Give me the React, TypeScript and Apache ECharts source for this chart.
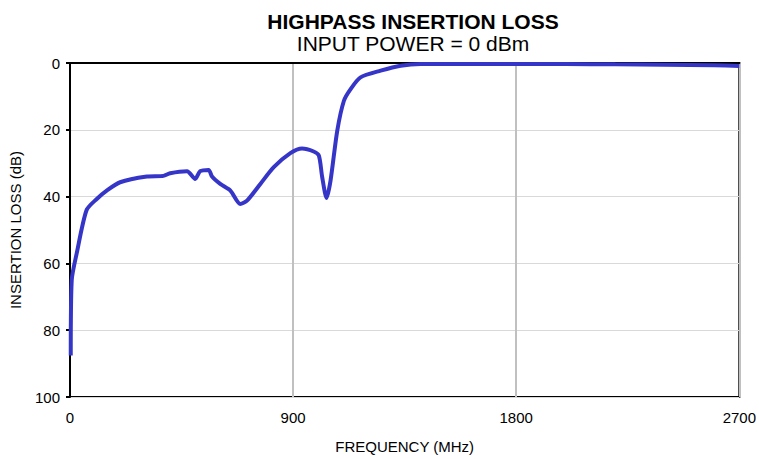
import React, { useEffect, useRef } from "react";
import * as echarts from "echarts";

const freqMHz = [3, 7, 27, 67, 108, 148, 202, 310, 377, 404, 472, 505, 525, 559, 573, 606, 647, 687, 714, 768, 822, 889, 936, 983, 1004, 1017, 1035, 1051, 1078, 1105, 1132, 1172, 1253, 1334, 1415, 1600, 1800, 2000, 2200, 2400, 2600, 2700];
const lossDb = [87.6, 65, 57, 44, 40.7, 38.2, 35.7, 34, 33.8, 33, 32.4, 34.7, 32.4, 32, 34, 36.2, 38.2, 42.2, 41.2, 36.2, 31.2, 27, 25.6, 26.5, 27.7, 34, 40.4, 35.2, 20.3, 11.3, 7.8, 4.3, 2.3, 0.8, 0.3, 0.3, 0.3, 0.3, 0.4, 0.5, 0.7, 0.9];

const titleText = "HIGHPASS INSERTION LOSS";
const subtitleText = "INPUT POWER = 0 dBm";
const xName = "FREQUENCY (MHz)";
const yName = "INSERTION LOSS (dB)";

const FONT = "'Liberation Sans', Arial, sans-serif";

export default function App() {
  const ref = useRef<HTMLDivElement>(null);
  useEffect(() => {
    if (!ref.current) return;
    const chart = echarts.init(ref.current, undefined, { renderer: "svg" });
    chart.setOption({
      animation: false,
      backgroundColor: "#ffffff",
      title: {
        text: titleText,
        subtext: subtitleText,
        left: 408,
        textAlign: "center",
        top: 6,
        itemGap: 1,
        textStyle: { fontFamily: FONT, fontWeight: "bold", fontSize: 21, lineHeight: 21, color: "#000" },
        subtextStyle: { fontFamily: FONT, fontSize: 21, lineHeight: 21, color: "#000" },
      },
      grid: {
        left: 70,
        right: 19,
        top: 63,
        bottom: 61,
        show: true,
        borderColor: "#000",
        borderWidth: 2,
        backgroundColor: "transparent",
      },
      xAxis: {
        type: "value",
        min: 0,
        max: 2700,
        interval: 900,
        name: xName,
        nameLocation: "middle",
        nameGap: 42,
        nameTextStyle: { fontFamily: FONT, fontSize: 15, color: "#000" },
        axisLine: { show: true, lineStyle: { color: "#000", width: 2 } },
        axisTick: { show: false },
        axisLabel: { fontFamily: FONT, fontSize: 15, color: "#000", margin: 13, formatter: (v: number) => String(v) },
        splitLine: { show: true, lineStyle: { color: "#c0c0c0", width: 2 } },
      },
      yAxis: {
        type: "value",
        inverse: true,
        min: 0,
        max: 100,
        interval: 20,
        name: yName,
        nameLocation: "middle",
        nameGap: 47,
        nameTextStyle: { fontFamily: FONT, fontSize: 15, color: "#000" },
        axisLine: { show: true, lineStyle: { color: "#000", width: 2 } },
        axisTick: { show: true, inside: false, length: 4, lineStyle: { color: "#000", width: 2 } },
        axisLabel: { fontFamily: FONT, fontSize: 15, color: "#000", margin: 10 },
        splitLine: { show: true, lineStyle: { color: "#d9d9d9", width: 1 } },
      },
      series: [
        {
          type: "line",
          data: freqMHz.map((f, i) => [f, lossDb[i]]),
          showSymbol: false,
          smooth: 0.25,
          lineStyle: { color: "#3535c8", width: 4 },
          clip: false,
        },
      ],
    });
    return () => chart.dispose();
  }, []);
  return <div ref={ref} style={{ position: "fixed", left: 0, top: 0, width: 759, height: 459 }} />;
}
